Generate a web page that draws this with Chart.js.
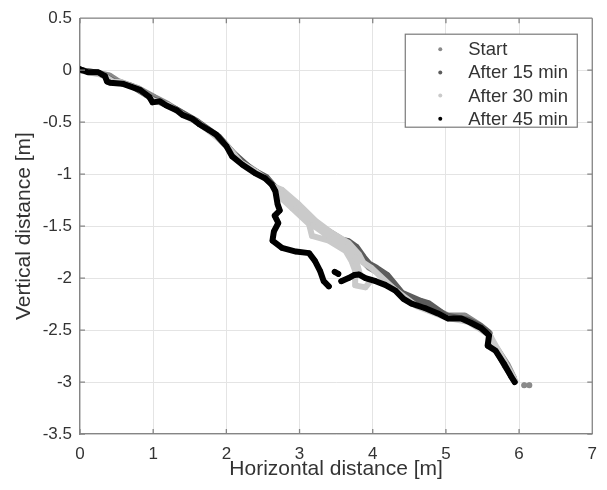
<!DOCTYPE html>
<html><head><meta charset="utf-8">
<script src="https://cdn.jsdelivr.net/npm/chart.js@4.4.1/dist/chart.umd.min.js"></script>
<style>html,body{margin:0;padding:0;background:#fff;}canvas{display:block;}</style>
</head><body>
<canvas id="c" width="607" height="490"></canvas>
<script>
// ---- data (metres) ----
const seriesLabels = ["Start", "After 15 min", "After 30 min", "After 45 min"];
const seriesColors = ["#8a8a8a", "#5c5c5c", "#cacaca", "#000000"];

const xStart = [0.00,0.20,0.40,0.52,0.80,1.02,1.20,1.50,1.80,2.05,2.22,2.40,2.60,2.74,2.95,3.22,3.45,3.63,3.76,3.84,3.95,4.10,4.31,4.42,4.72,5.03,5.26,5.48,5.60,5.62,5.70,5.84,5.93,null,6.07,null,6.14];
const yStart = [0.00,-0.02,-0.05,-0.105,-0.175,-0.26,-0.325,-0.455,-0.595,-0.765,-0.885,-0.97,-1.08,-1.19,-1.33,-1.49,-1.61,-1.68,-1.72,-1.82,-1.90,-1.96,-2.10,-2.16,-2.26,-2.36,-2.36,-2.46,-2.53,-2.65,-2.68,-2.83,-2.96,null,-3.03,null,-3.03];

const x15 = [0.00,0.25,0.45,0.70,1.00,1.30,1.60,1.90,2.10,2.35,2.55,2.66,2.80,3.00,3.20,3.28,3.40,3.58,3.67,3.78,3.88,3.95,4.05,4.20,4.40,4.66,4.76,5.00,5.30,5.45,5.58,5.66,5.80,5.92];
const y15 = [0.00,-0.025,-0.10,-0.15,-0.28,-0.37,-0.49,-0.64,-0.80,-0.955,-1.03,-1.12,-1.19,-1.31,-1.45,-1.53,-1.55,-1.63,-1.645,-1.70,-1.80,-1.86,-1.90,-1.97,-2.14,-2.22,-2.24,-2.36,-2.40,-2.45,-2.52,-2.66,-2.84,-2.97];

const x30 = [0.00,0.12,0.30,0.45,0.55,0.80,1.00,1.20,1.40,1.60,1.80,2.00,2.20,2.40,2.55,2.65,2.76,2.99,3.22,3.44,3.67,3.81,3.87,3.98,4.10,4.30,4.60,5.00,5.30,5.60,5.80,5.95,null,2.72,2.90,3.13,3.17,3.40,3.63,3.71,3.76,3.76,3.90,3.98,null,2.70,2.95,3.18,3.40,3.62,3.76,3.82];
const y30 = [0.00,-0.02,-0.045,-0.11,-0.115,-0.18,-0.29,-0.335,-0.425,-0.50,-0.605,-0.72,-0.89,-0.975,-1.05,-1.12,-1.15,-1.29,-1.45,-1.565,-1.66,-1.77,-1.85,-1.90,-1.98,-2.11,-2.27,-2.38,-2.42,-2.55,-2.80,-2.99,null,-1.21,-1.33,-1.48,-1.595,-1.64,-1.74,-1.835,-1.93,-2.07,-2.09,-2.02,null,-1.17,-1.33,-1.49,-1.60,-1.70,-1.80,-1.95];

const x45 = [0.00,0.03,0.11,0.18,0.25,0.31,0.34,0.37,0.41,0.58,0.82,0.95,0.99,1.09,1.18,1.32,1.40,1.54,1.63,1.77,1.86,2.00,2.08,2.22,2.39,2.53,2.62,2.67,2.70,2.73,2.66,2.71,2.65,2.63,2.76,2.95,3.13,3.21,3.28,3.33,3.40,null,3.48,3.53,null,3.57,3.67,3.75,3.81,3.90,4.04,4.17,4.31,4.42,4.53,4.72,4.89,5.03,5.21,5.34,5.48,5.59,5.57,5.68,5.79,5.89,5.94];
const y45 = [0.01,0.00,-0.02,-0.02,-0.02,-0.045,-0.055,-0.11,-0.12,-0.13,-0.19,-0.26,-0.31,-0.30,-0.34,-0.385,-0.43,-0.47,-0.52,-0.58,-0.62,-0.73,-0.83,-0.91,-0.99,-1.04,-1.10,-1.165,-1.29,-1.35,-1.40,-1.47,-1.55,-1.64,-1.71,-1.745,-1.76,-1.835,-1.93,-2.03,-2.08,null,-1.94,-1.96,null,-2.03,-2.00,-1.97,-1.965,-2.00,-2.03,-2.065,-2.12,-2.20,-2.245,-2.29,-2.34,-2.39,-2.39,-2.43,-2.48,-2.55,-2.65,-2.70,-2.82,-2.945,-3.00];

const xTickValues = [0,1,2,3,4,5,6,7];
const yTickValues = [-3.5,-3,-2.5,-2,-1.5,-1,-0.5,0,0.5];
const xTitle = "Horizontal distance [m]";
const yTitle = "Vertical distance [m]";

// ---- build ----
const FONT = "'Liberation Sans', Arial, Helvetica, sans-serif";
const TEXT = "#333333";
const AXIS = "#858585";
const toPts = (xs, ys) => xs.map((x, i) => ({x: x, y: ys[i]}));
const xsAll = [xStart, x15, x30, x45], ysAll = [yStart, y15, y30, y45];

const datasets = seriesLabels.map((lab, i) => ({
  label: lab,
  data: toPts(xsAll[i], ysAll[i]),
  showLine: true,
  spanGaps: false,
  borderColor: seriesColors[i],
  backgroundColor: seriesColors[i],
  borderWidth: 6,
  borderCapStyle: 'round',
  borderJoinStyle: 'round',
  pointRadius: 2.6,
  pointBorderWidth: 0,
  pointHoverRadius: 2.6,
  order: seriesLabels.length - 1 - i
}));

const frame = {
  id: 'frame',
  afterDraw(chart) {
    const {ctx, chartArea: a, scales} = chart;
    ctx.save();
    ctx.strokeStyle = AXIS;
    ctx.lineWidth = 1.3;
    ctx.beginPath();
    ctx.moveTo(a.left, a.top); ctx.lineTo(a.right, a.top);
    ctx.moveTo(a.right, a.top); ctx.lineTo(a.right, a.bottom);
    const tl = 5;
    scales.x.ticks.forEach(t => {
      const px = scales.x.getPixelForValue(t.value);
      ctx.moveTo(px, a.bottom); ctx.lineTo(px, a.bottom - tl);
      ctx.moveTo(px, a.top); ctx.lineTo(px, a.top + tl);
    });
    scales.y.ticks.forEach(t => {
      const py = scales.y.getPixelForValue(t.value);
      ctx.moveTo(a.left, py); ctx.lineTo(a.left + tl, py);
      ctx.moveTo(a.right, py); ctx.lineTo(a.right - tl, py);
    });
    ctx.stroke();

    // legend box
    const bx = a.right - 187, by = a.top + 16, bw = 172, bh = 93;
    ctx.fillStyle = '#ffffff';
    ctx.fillRect(bx, by, bw, bh);
    ctx.strokeStyle = '#7a7a7a';
    ctx.lineWidth = 1.2;
    ctx.strokeRect(bx, by, bw, bh);
    ctx.font = "18.5px " + FONT;
    ctx.textBaseline = 'middle';
    ctx.textAlign = 'left';
    chart.data.datasets.forEach((ds, i) => {
      const cy = by + 15 + i * 23.2;
      ctx.fillStyle = ds.borderColor;
      ctx.beginPath();
      ctx.arc(bx + 35, cy, 2, 0, Math.PI * 2);
      ctx.fill();
      ctx.fillStyle = TEXT;
      ctx.fillText(ds.label, bx + 63, cy + 1);
    });
    ctx.restore();
  }
};

new Chart(document.getElementById('c'), {
  type: 'scatter',
  data: {datasets},
  options: {
    responsive: false,
    animation: false,
    events: [],
    layout: {padding: {top: 16, right: 12, left: 0, bottom: 0}},
    plugins: {legend: {display: false}, tooltip: {enabled: false}},
    scales: {
      x: {
        type: 'linear', min: 0, max: 7,
        afterBuildTicks: s => { s.ticks = xTickValues.map(v => ({value: v})); },
        afterFit: s => { s.height = 56; },
        ticks: {color: TEXT, font: {family: FONT, size: 17}, padding: 10, maxRotation: 0,
                callback: v => String(v)},
        grid: {color: '#e4e4e4', lineWidth: 1, drawTicks: false},
        border: {color: AXIS, width: 1.3},
        title: {display: true, text: xTitle, color: TEXT, font: {family: FONT, size: 21}, padding: {top: 0, bottom: 8}}
      },
      y: {
        type: 'linear', min: -3.5, max: 0.5,
        afterBuildTicks: s => { s.ticks = yTickValues.map(v => ({value: v})); },
        afterFit: s => { s.width = 80; },
        ticks: {color: TEXT, font: {family: FONT, size: 17}, padding: 8,
                callback: v => String(v)},
        grid: {color: '#e4e4e4', lineWidth: 1, drawTicks: false},
        border: {color: AXIS, width: 1.3},
        title: {display: true, text: yTitle, color: TEXT, font: {family: FONT, size: 21}, padding: {top: 12, bottom: 0}}
      }
    }
  },
  plugins: [frame]
});
</script>
</body></html>
